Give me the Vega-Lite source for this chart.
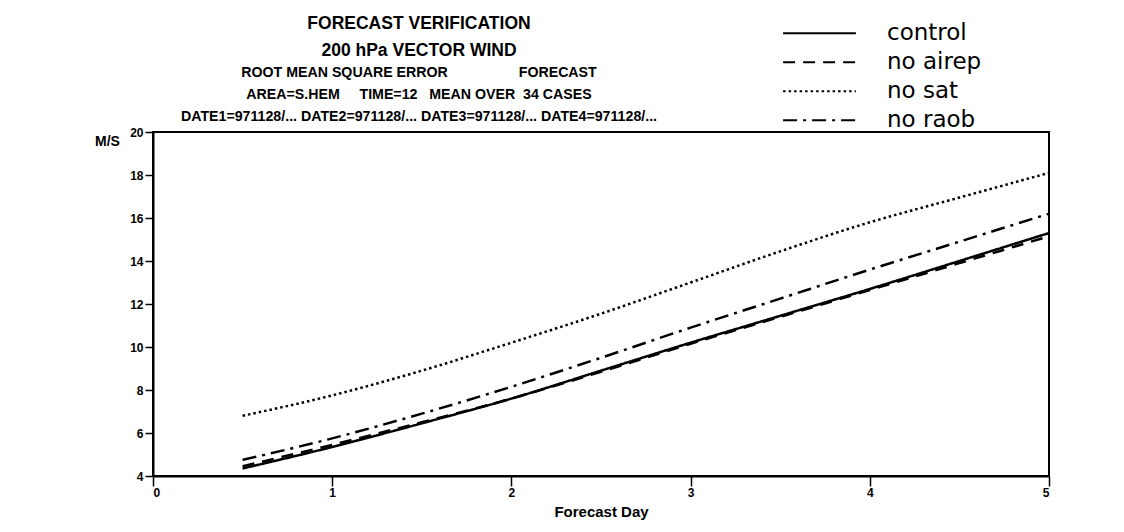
{
  "$schema": "https://vega.github.io/schema/vega-lite/v6.json",
  "width": 896,
  "height": 344,
  "autosize": {"type": "none"},
  "padding": {"left": 153, "top": 132, "right": 75, "bottom": 56},
  "background": "white",
  "title": {
    "text": ["FORECAST VERIFICATION", "200 hPa VECTOR WIND"],
    "subtitle": [
      "ROOT MEAN SQUARE ERROR\u00a0\u00a0\u00a0\u00a0\u00a0\u00a0\u00a0\u00a0\u00a0\u00a0\u00a0\u00a0\u00a0\u00a0\u00a0\u00a0\u00a0\u00a0FORECAST",
      "AREA=S.HEM\u00a0\u00a0\u00a0\u00a0\u00a0TIME=12\u00a0\u00a0\u00a0MEAN OVER\u00a0\u00a034 CASES",
      "DATE1=971128/... DATE2=971128/... DATE3=971128/... DATE4=971128/..."
    ],
    "anchor": "middle",
    "frame": "group",
    "dx": -182,
    "offset": -105,
    "font": "Liberation Sans",
    "fontSize": 17.5,
    "fontWeight": "bold",
    "lineHeight": 27,
    "color": "black",
    "subtitleFont": "Liberation Sans",
    "subtitleFontSize": 14.2,
    "subtitleFontWeight": "bold",
    "subtitleColor": "black",
    "subtitleLineHeight": 22,
    "subtitlePadding": 6
  },
  "data": {
    "values": [
      {"day": 0.5, "run": "control", "rmse": 4.35},
      {"day": 1.0, "run": "control", "rmse": 5.35},
      {"day": 1.5, "run": "control", "rmse": 6.45},
      {"day": 2.0, "run": "control", "rmse": 7.6},
      {"day": 2.5, "run": "control", "rmse": 8.9},
      {"day": 3.0, "run": "control", "rmse": 10.2},
      {"day": 3.5, "run": "control", "rmse": 11.45},
      {"day": 4.0, "run": "control", "rmse": 12.7},
      {"day": 4.5, "run": "control", "rmse": 14.0},
      {"day": 5.0, "run": "control", "rmse": 15.3},
      {"day": 0.5, "run": "no airep", "rmse": 4.45},
      {"day": 1.0, "run": "no airep", "rmse": 5.45},
      {"day": 1.5, "run": "no airep", "rmse": 6.5},
      {"day": 2.0, "run": "no airep", "rmse": 7.6},
      {"day": 2.5, "run": "no airep", "rmse": 8.85},
      {"day": 3.0, "run": "no airep", "rmse": 10.15},
      {"day": 3.5, "run": "no airep", "rmse": 11.4},
      {"day": 4.0, "run": "no airep", "rmse": 12.65},
      {"day": 4.5, "run": "no airep", "rmse": 13.9},
      {"day": 5.0, "run": "no airep", "rmse": 15.15},
      {"day": 0.5, "run": "no sat", "rmse": 6.8},
      {"day": 1.0, "run": "no sat", "rmse": 7.75},
      {"day": 1.5, "run": "no sat", "rmse": 8.9},
      {"day": 2.0, "run": "no sat", "rmse": 10.2},
      {"day": 2.5, "run": "no sat", "rmse": 11.55},
      {"day": 3.0, "run": "no sat", "rmse": 13.0},
      {"day": 3.5, "run": "no sat", "rmse": 14.45},
      {"day": 4.0, "run": "no sat", "rmse": 15.8},
      {"day": 4.5, "run": "no sat", "rmse": 16.95},
      {"day": 5.0, "run": "no sat", "rmse": 18.1},
      {"day": 0.5, "run": "no raob", "rmse": 4.75},
      {"day": 1.0, "run": "no raob", "rmse": 5.75},
      {"day": 1.5, "run": "no raob", "rmse": 6.9},
      {"day": 2.0, "run": "no raob", "rmse": 8.15},
      {"day": 2.5, "run": "no raob", "rmse": 9.5},
      {"day": 3.0, "run": "no raob", "rmse": 10.9},
      {"day": 3.5, "run": "no raob", "rmse": 12.25},
      {"day": 4.0, "run": "no raob", "rmse": 13.6},
      {"day": 4.5, "run": "no raob", "rmse": 14.9},
      {"day": 5.0, "run": "no raob", "rmse": 16.2}
    ]
  },
  "mark": {"type": "line", "color": "black", "strokeWidth": 2.5, "interpolate": "monotone"},
  "encoding": {
    "x": {
      "field": "day",
      "type": "quantitative",
      "scale": {"domain": [0, 5], "nice": false},
      "axis": {
        "title": "Forecast Day",
        "values": [0, 1, 2, 3, 4, 5],
        "format": "d",
        "grid": false,
        "tickSize": 10,
        "labelPadding": 1,
        "titlePadding": 6
      }
    },
    "y": {
      "field": "rmse",
      "type": "quantitative",
      "scale": {"domain": [4, 20], "nice": false, "zero": false},
      "axis": {
        "title": "M/S",
        "values": [4, 6, 8, 10, 12, 14, 16, 18, 20],
        "grid": false,
        "tickSize": 8,
        "labelPadding": 2,
        "titleAngle": 0,
        "titleX": -46,
        "titleY": 9,
        "titleAlign": "center",
        "titleBaseline": "middle",
        "titleFontSize": 14
      }
    },
    "strokeDash": {
      "field": "run",
      "type": "nominal",
      "scale": {
        "domain": ["control", "no airep", "no sat", "no raob"],
        "range": [[1, 0], [12, 8], [2.5, 3], [14, 6, 3, 6]]
      },
      "legend": {
        "title": null,
        "orient": "none",
        "legendX": 629,
        "legendY": -113,
        "symbolType": "stroke",
        "symbolSize": 5300,
        "symbolStrokeWidth": 2,
        "symbolStrokeColor": "black",
        "clipHeight": 28.5,
        "rowPadding": 0,
        "labelOffset": 30,
        "labelFont": "DejaVu Sans",
        "labelFontSize": 23,
        "labelColor": "black",
        "labelLimit": 300
      }
    }
  },
  "config": {
    "view": {"stroke": "black", "strokeWidth": 2},
    "axis": {
      "domainColor": "black",
      "domainWidth": 2,
      "tickColor": "black",
      "tickWidth": 1.5,
      "labelFont": "Liberation Sans",
      "labelFontSize": 12,
      "labelFontWeight": "bold",
      "labelColor": "black",
      "titleFont": "Liberation Sans",
      "titleFontSize": 15,
      "titleFontWeight": "bold",
      "titleColor": "black"
    }
  }
}
